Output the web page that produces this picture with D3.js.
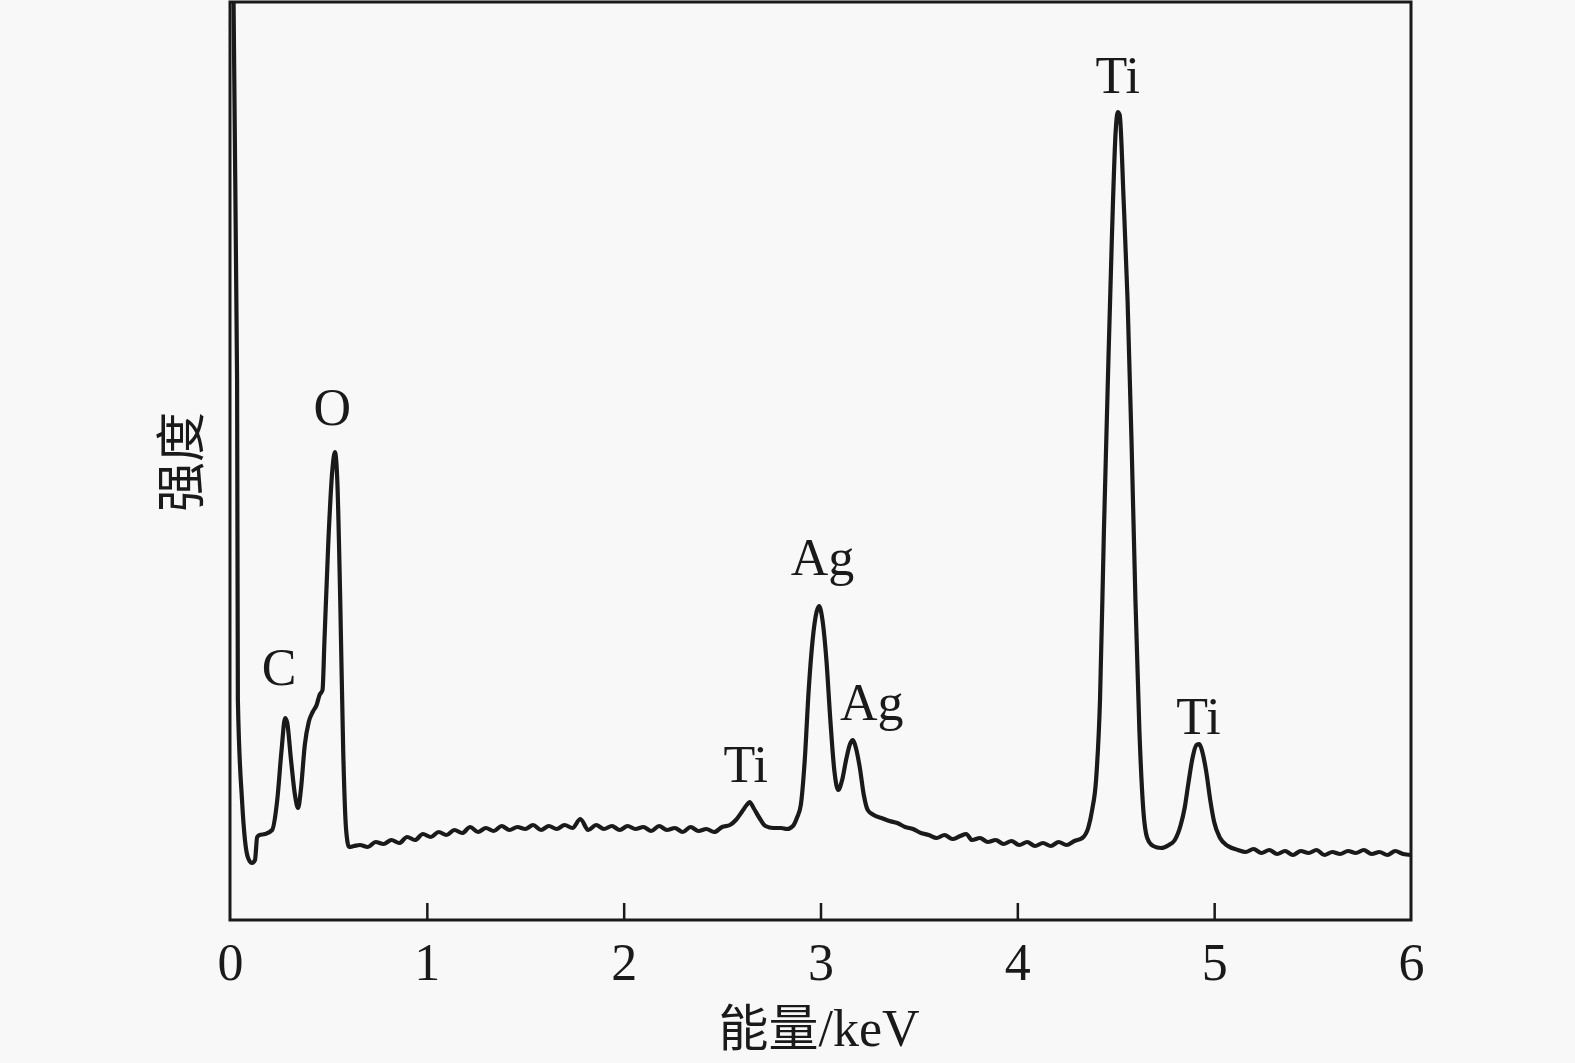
<!DOCTYPE html>
<html>
<head>
<meta charset="utf-8">
<script src="https://cdn.jsdelivr.net/npm/d3@7"></script>
<style>
  html, body { margin: 0; padding: 0; background: #f8f8f8; }
  svg { display: block; }
</style>
</head>
<body>
<svg width="1575" height="1063"></svg>
<script>
// spectrum, split in segments (energy in keV, intensity in counts)
var lowEnergy = [
  0.012, 0.018, 0.036, 0.040, 0.061, 0.076, 0.092, 0.112, 0.127, 0.138, 0.150, 0.178, 0.214, 0.240, 0.262,
  0.280, 0.290, 0.310, 0.330, 0.346, 0.360, 0.380, 0.400, 0.420, 0.440, 0.455, 0.470, 0.480, 0.500, 0.520,
  0.533, 0.545, 0.560, 0.575, 0.590, 0.605, 0.630
];
var lowCounts = [
  2400, 1840, 1080, 440, 240, 160, 124, 114, 120, 166, 170, 172, 180, 240, 340,
  404, 396, 320, 250, 224, 260, 350, 396, 416, 430, 450, 460, 560, 760, 900,
  936, 880, 640, 340, 180, 146, 148
];

var baseEnergy = [
  0.66, 0.70, 0.74, 0.78, 0.82, 0.86, 0.90, 0.94, 0.98, 1.02, 1.06, 1.10,
  1.14, 1.18, 1.22, 1.26, 1.30, 1.34, 1.38, 1.42, 1.46, 1.50, 1.54, 1.58,
  1.62, 1.66, 1.70, 1.74, 1.78, 1.82, 1.86, 1.90, 1.94, 1.98, 2.02, 2.06,
  2.10, 2.14, 2.18, 2.22, 2.26, 2.30, 2.34, 2.38, 2.42, 2.46, 2.50, 2.54
];
var baseCounts = [
  150, 146, 156, 152, 160, 154, 166, 160, 172, 166, 176, 170,
  180, 174, 186, 176, 184, 178, 188, 180, 186, 182, 190, 180,
  188, 182, 190, 184, 202, 180, 190, 182, 188, 180, 188, 182,
  186, 178, 188, 180, 184, 176, 186, 178, 182, 176, 186, 190
];

var agEnergy = [
  2.570, 2.600, 2.625, 2.640, 2.660, 2.690, 2.720, 2.760, 2.800, 2.830, 2.860, 2.880, 2.900, 2.920, 2.940,
  2.960, 2.980, 2.993, 3.010, 3.030, 3.050, 3.070, 3.090, 3.110, 3.130, 3.150, 3.165, 3.180, 3.200, 3.220,
  3.240
];
var agCounts = [
  200, 216, 230, 236, 224, 204, 188, 184, 184, 182, 188, 204, 230, 320, 460,
  560, 616, 628, 600, 520, 400, 300, 260, 280, 320, 352, 360, 344, 304, 250,
  220
];

var tailEnergy = [
  3.27, 3.31, 3.35, 3.39, 3.43, 3.47, 3.51, 3.55, 3.59, 3.63, 3.67, 3.71, 3.74, 3.77,
  3.81, 3.85, 3.89, 3.93, 3.97, 4.01, 4.05, 4.09, 4.13, 4.17, 4.21, 4.25, 4.29, 4.33
];
var tailCounts = [
  210, 204, 198, 194, 186, 182, 174, 170, 164, 170, 162, 168, 172, 160,
  164, 156, 160, 152, 158, 150, 156, 148, 154, 148, 156, 150, 158, 164
];

var tiEnergy = [
  4.360, 4.380, 4.400, 4.420, 4.440, 4.460, 4.480, 4.500, 4.510, 4.520, 4.540, 4.560, 4.580, 4.600, 4.620,
  4.640, 4.660, 4.690, 4.730, 4.770, 4.800, 4.830, 4.850, 4.870, 4.890, 4.910, 4.925, 4.940, 4.960, 4.980,
  5.000, 5.030, 5.070
];
var tiCounts = [
  184, 220, 280, 440, 780, 1080, 1360, 1580, 1616, 1610, 1440, 1240, 960, 640, 380,
  220, 164, 148, 144, 150, 160, 190, 224, 276, 324, 350, 352, 336, 296, 240,
  196, 164, 148
];

var endEnergy = [
  5.12, 5.16, 5.20, 5.24, 5.28, 5.32, 5.36, 5.40, 5.44, 5.48, 5.52, 5.56,
  5.60, 5.64, 5.68, 5.72, 5.76, 5.80, 5.84, 5.88, 5.92, 5.96, 6.00
];
var endCounts = [
  140, 136, 142, 134, 140, 132, 138, 130, 138, 134, 140, 130,
  136, 132, 138, 134, 140, 132, 136, 130, 138, 132, 130
];

var xTicks = [0, 1, 2, 3, 4, 5, 6];

var peakNames = ["C", "O", "Ti", "Ag", "Ag", "Ti", "Ti"];
var peakEnergy = [0.25, 0.52, 2.62, 3.01, 3.26, 4.51, 4.92];
var peakCounts = [470, 990, 276, 690, 400, 1654, 372];

var svg = d3.select("svg"),
    margin = {top: 2, right: 164, bottom: 143, left: 230},
    width = +svg.attr("width") - margin.left - margin.right,
    height = +svg.attr("height") - margin.top - margin.bottom,
    ink = "#1a1a1a",
    serif = "'Liberation Serif', 'DejaVu Serif', serif",
    cjk = "'Noto Sans CJK SC', 'Noto Sans CJK JP', sans-serif";

var energy = [].concat(lowEnergy, baseEnergy, agEnergy, tailEnergy, tiEnergy, endEnergy),
    counts = [].concat(lowCounts, baseCounts, agCounts, tailCounts, tiCounts, endCounts);

var data = energy.map(function(e, i) { return {e: e, c: counts[i]}; });

var x = d3.scaleLinear().domain([0, 6]).range([0, width]);
var y = d3.scaleLinear().domain([0, 1836]).range([height, 0]);

var g = svg.append("g")
    .attr("transform", "translate(" + margin.left + "," + margin.top + ")");

g.append("clipPath").attr("id", "plot")
  .append("rect").attr("width", width).attr("height", height);

// spectrum
var line = d3.line()
    .x(function(d) { return x(d.e); })
    .y(function(d) { return y(d.c); })
    .curve(d3.curveMonotoneX);

g.append("path")
    .datum(data)
    .attr("clip-path", "url(#plot)")
    .attr("fill", "none")
    .attr("stroke", ink)
    .attr("stroke-width", 4.2)
    .attr("stroke-linejoin", "round")
    .attr("d", line);

// bottom axis, ticks pointing inwards
var xAxis = g.append("g")
    .attr("transform", "translate(0," + height + ")")
    .call(d3.axisBottom(x).tickValues(xTicks).tickSize(-17).tickPadding(23).tickFormat(d3.format("d")));

xAxis.select(".domain").remove();
xAxis.selectAll(".tick line")
    .attr("stroke", ink)
    .attr("stroke-width", 2.5)
    .filter(function(d) { return d === 0 || d === 6; }).remove();
xAxis.selectAll(".tick text")
    .attr("fill", ink)
    .style("font-family", serif)
    .style("font-size", "52px");

// frame
g.append("rect")
    .attr("width", width)
    .attr("height", height)
    .attr("fill", "none")
    .attr("stroke", ink)
    .attr("stroke-width", 3);

// peak labels
g.selectAll(".peak")
    .data(peakNames)
  .enter().append("text")
    .attr("class", "peak")
    .attr("x", function(d, i) { return x(peakEnergy[i]); })
    .attr("y", function(d, i) { return y(peakCounts[i]); })
    .attr("text-anchor", "middle")
    .attr("fill", ink)
    .style("font-family", serif)
    .style("font-size", "52px")
    .text(function(d) { return d; });

// axis titles
var xTitle = svg.append("text")
    .attr("x", 819)
    .attr("y", 1046)
    .attr("text-anchor", "middle")
    .attr("fill", ink)
    .style("font-size", "50px");
xTitle.append("tspan").style("font-family", cjk).text("能量");
xTitle.append("tspan").style("font-family", serif).style("font-size", "52px").text("/keV");

svg.append("text")
    .attr("transform", "translate(199,462) rotate(-90)")
    .attr("text-anchor", "middle")
    .attr("fill", ink)
    .style("font-family", cjk)
    .style("font-size", "50px")
    .text("强度");
</script>
</body>
</html>
